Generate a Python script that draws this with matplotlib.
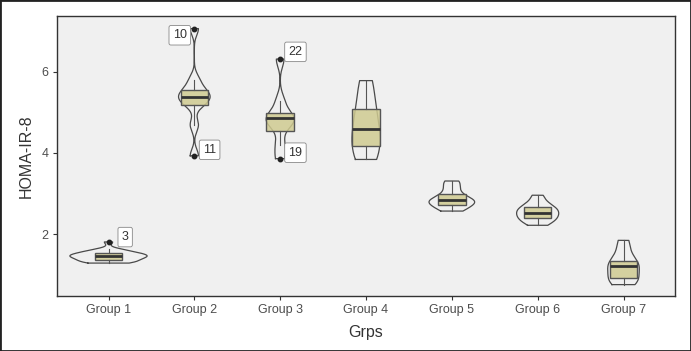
import numpy as np
import matplotlib
matplotlib.use("Agg")
import matplotlib.pyplot as plt
from matplotlib.patches import Rectangle

plt.rcParams['font.family'] = ['Liberation Sans', 'DejaVu Sans']

categories = ["Group 1", "Group 2", "Group 3", "Group 4", "Group 5", "Group 6", "Group 7"]

g1 = [1.29, 1.30, 1.31, 1.33, 1.35, 1.37, 1.39, 1.41, 1.43, 1.44, 1.45,
      1.47, 1.48, 1.49, 1.50, 1.515, 1.535, 1.56, 1.58, 1.60, 1.63, 1.81]
g2 = [3.93, 4.69, 5.19, 5.30, 5.38, 5.45, 5.56, 5.80, 7.06]
g3 = [3.86, 4.20, 4.653, 4.82, 4.88, 4.883, 5.27, 6.31]
g4 = [3.84, 3.95, 4.23, 4.45, 4.71, 4.97, 5.40, 5.78]
g5 = [2.57, 2.62, 2.68, 2.73, 2.78, 2.81, 2.83, 2.85, 2.88, 3.00, 3.10, 3.24, 3.31]
g6 = [2.22, 2.30, 2.36, 2.40, 2.46, 2.50, 2.56, 2.60, 2.65, 2.69, 2.80, 2.96]
g7 = [0.76, 0.84, 0.92, 1.05, 1.21, 1.27, 1.33, 1.58, 1.85]
groups = [g1, g2, g3, g4, g5, g6, g7]

# outlier row labels (group index, value, label)
outlier_labels = [(0, 1.81, "3"), (1, 7.06, "10"), (1, 3.93, "11"),
                  (2, 6.31, "22"), (2, 3.86, "19")]

y_label = "HOMA-IR-8"
x_label = "Grps"


def bw_nrd0(x):
    x = np.asarray(x, float)
    hi = np.std(x, ddof=1)
    q75, q25 = np.percentile(x, [75, 25])
    lo = min(hi, (q75 - q25) / 1.34)
    if lo <= 0:
        lo = hi if hi > 0 else 1.0
    return 0.9 * lo * len(x) ** (-0.2)


def kde(x, grid):
    x = np.asarray(x, float)
    bw = bw_nrd0(x)
    z = (grid[:, None] - x[None, :]) / bw
    return np.exp(-0.5 * z ** 2).sum(axis=1) / (len(x) * bw * np.sqrt(2 * np.pi))


fig = plt.figure(figsize=(6.91, 3.51), dpi=100)
ax = fig.add_axes([57 / 691, 55 / 351, (675 - 57) / 691, (296 - 16) / 351])
ax.set_facecolor('#f0f0f0')

nmax = max(len(g) for g in groups)
for i, g in enumerate(groups):
    pos = i + 1
    arr = np.asarray(g, float)
    grid = np.linspace(arr.min(), arr.max(), 512)
    d = kde(arr, grid)
    w = 0.45 * d / d.max() * len(arr) / nmax
    xs = np.concatenate([pos - w, (pos + w)[::-1], [pos - w[0]]])
    ys = np.concatenate([grid, grid[::-1], [grid[0]]])
    ax.plot(xs, ys, color='#4a4a4a', lw=0.9, zorder=2)

bp = ax.boxplot(groups, positions=range(1, 8), widths=0.32, patch_artist=True,
                whis=1.5, showcaps=False, manage_ticks=False,
                boxprops=dict(facecolor=(208 / 255, 203 / 255, 145 / 255, 0.85),
                              edgecolor='#555555', linewidth=1.0),
                medianprops=dict(color='#333333', linewidth=2.0),
                whiskerprops=dict(color='#555555', linewidth=0.8),
                flierprops=dict(marker='o', markerfacecolor='#222222',
                                markeredgecolor='#222222', markersize=3.2),
                zorder=3)

offsets = {"3": (12, 3.5), "10": (-10.5, -4.8), "11": (11, 4.3),
           "22": (11, 5.2), "19": (11, 4.3)}
for gi, val, lab in outlier_labels:
    ax.annotate(lab, xy=(gi + 1, val), xytext=offsets[lab], textcoords='offset points',
                ha='center', va='center', fontsize=9, color='#333333',
                bbox=dict(boxstyle='round,pad=0.3,rounding_size=0.15', fc='white',
                          ec='#888888', lw=0.6), zorder=5)

ax.set_xlim(0.4, 7.6)
ax.set_ylim(0.48, 7.37)
ax.set_xticks(range(1, 8))
ax.set_xticklabels(categories)
ax.set_yticks([2, 4, 6])
ax.tick_params(axis='both', direction='out', length=3, width=0.8, color='#333333',
               labelsize=9, labelcolor='#4d4d4d', pad=3)
for s in ax.spines.values():
    s.set_color('#333333')
    s.set_linewidth(1.0)
ax.set_xlabel(x_label, fontsize=11.5, color='#333333', labelpad=6)
ax.set_ylabel(y_label, fontsize=11.5, color='#333333', labelpad=6)

fig.patches.append(Rectangle((0, 0), 1, 1, transform=fig.transFigure, fill=False,
                             ec='#222222', lw=2.0))
fig.savefig("out.png", dpi=100)
